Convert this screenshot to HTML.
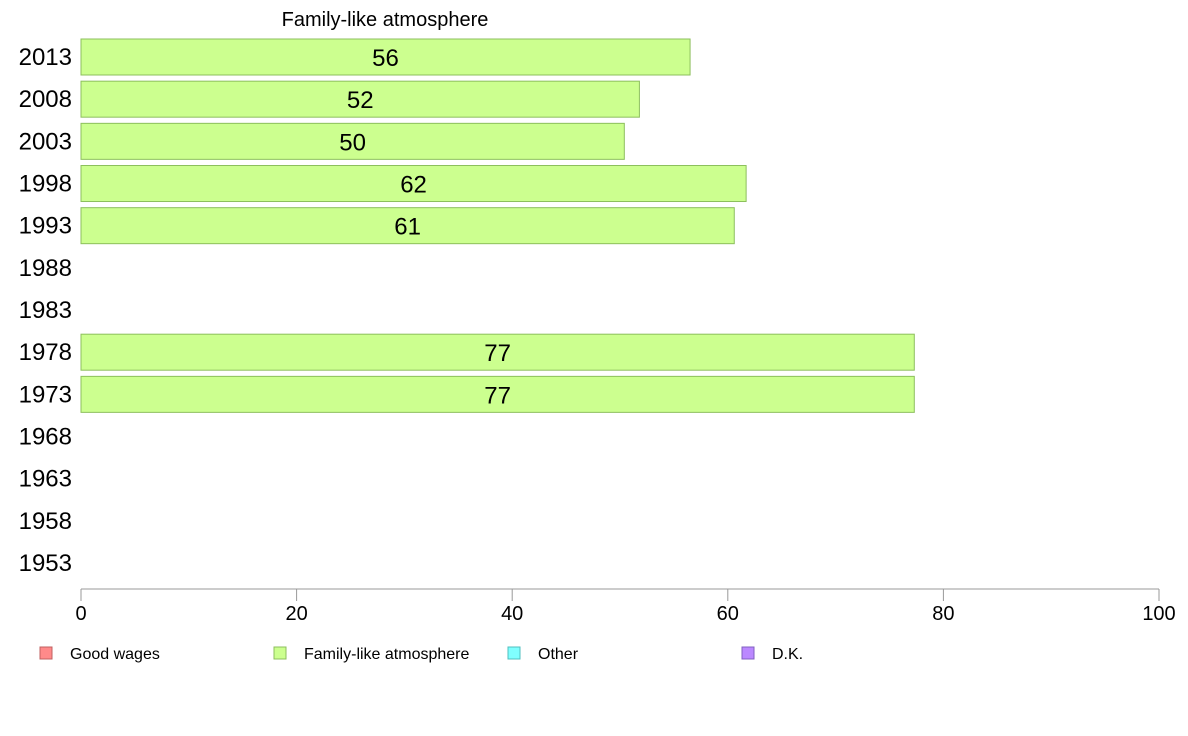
<!DOCTYPE html>
<html><head><meta charset="utf-8"><style>
body{margin:0;background:#fff;}
svg{font-family:"Liberation Sans",sans-serif;display:block;}
</style></head><body>
<svg id="chart" width="1188" height="736">
<text x="385" y="26" text-anchor="middle" font-size="20">Family-like atmosphere</text>
<g id="bars"></g>
<g id="axis"></g>
<g id="legend"></g>
</svg>
<script>
const categories=["2013","2008","2003","1998","1993","1988","1983","1978","1973","1968","1963","1958","1953"];
const values=[56.5,51.8,50.4,61.7,60.6,null,null,77.3,77.3,null,null,null,null];
const valueLabels=["56","52","50","62","61","","","77","77","","","",""];
const xTicks=[0,20,40,60,80,100];
const legendItems=["Good wages","Family-like atmosphere","Other","D.K."];
const legendColors=["#ff8a8a","#ccff8f","#80ffff","#bb88ff"];
const legendStroke=["#c06060","#8cbf5c","#50bfbf","#8060c0"];
const NS="http://www.w3.org/2000/svg";
const x=v=>81+v*10.78;
const y0=57, step=42.17;
const y=i=>y0+i*step;
const bh=36;
function mk(t,a,p){const e=document.createElementNS(NS,t);for(const k in a)e.setAttribute(k,a[k]);p.appendChild(e);return e;}
const bars=document.getElementById('bars');
categories.forEach((c,i)=>{
  const lab=mk('text',{x:72,y:y(i)+8,'text-anchor':'end','font-size':24},bars);
  lab.textContent=c;
  
  
  if(values[i]!=null){
    const r=mk('rect',{x:x(0),y:y(i)-bh/2,width:x(values[i])-x(0),height:bh,fill:'#ccff8f',stroke:'#8cbf5c','stroke-width':1},bars);
    
    
    const t=mk('text',{x:(x(0)+x(values[i]))/2,y:y(i)+9,'text-anchor':'middle','font-size':24},bars);
    t.textContent=valueLabels[i];
    
    
  }
});
const ax=document.getElementById('axis');
const l=mk('line',{x1:x(0),x2:x(100),y1:589,y2:589,stroke:'#999','stroke-width':1},ax);


xTicks.forEach(v=>{
  const tk=mk('line',{x1:x(v),x2:x(v),y1:589,y2:601,stroke:'#999','stroke-width':1},ax);
  
  
  const t=mk('text',{x:x(v),y:620,'text-anchor':'middle','font-size':20},ax);
  t.textContent=v;
  
  
});
const lg=document.getElementById('legend');
legendItems.forEach((n,i)=>{
  const lx=40+i*234;
  const g=mk('g',{},lg);
  
  
  mk('rect',{x:lx,y:647,width:12,height:12,fill:legendColors[i],stroke:legendStroke[i]},g);
  const t=mk('text',{x:lx+30,y:659,'font-size':16},g);
  t.textContent=n;
});
</script>
</body></html>
